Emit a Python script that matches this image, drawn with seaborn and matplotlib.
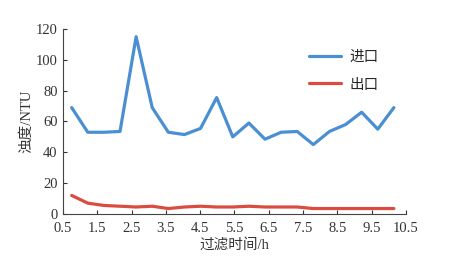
import pandas as pd
import numpy as np
import matplotlib.pyplot as plt
import seaborn as sns

hours = [0.75, 1.22, 1.69, 2.16, 2.63, 3.10, 3.57, 4.04, 4.51, 4.98, 5.45,
         5.92, 6.39, 6.86, 7.33, 7.80, 8.27, 8.74, 9.21, 9.68, 10.15]
inlet = [69, 53, 53, 53.5, 115, 69, 53, 51.5, 55.5, 75.5, 50,
         59, 48.5, 53, 53.5, 45, 53.5, 58, 66, 55, 69]
outlet = [12, 7, 5.5, 5, 4.5, 5, 3.5, 4.5, 5, 4.5, 4.5,
          5, 4.5, 4.5, 4.5, 3.5, 3.5, 3.5, 3.5, 3.5, 3.5]
series_names = ["进口", "出口"]
x_ticks = [0.5, 1.5, 2.5, 3.5, 4.5, 5.5, 6.5, 7.5, 8.5, 9.5, 10.5]
y_ticks = [0, 20, 40, 60, 80, 100, 120]

df = pd.DataFrame({
    "time": hours * 2,
    "value": inlet + outlet,
    "series": [series_names[0]] * len(hours) + [series_names[1]] * len(hours)
})

sns.set_style("ticks")
plt.rcParams["font.family"] = ["Liberation Serif", "Noto Sans CJK SC"]

fig = plt.figure(figsize=(4.54, 2.59), dpi=100)
ax = fig.add_axes([0.139, 0.174, 0.755, 0.714])
sns.lineplot(data=df, x="time", y="value", hue="series",
             palette=["#4a8fd2", "#dc4b40"], linewidth=2.3, ax=ax)

ax.set_xlim(0.5, 10.5)
ax.set_ylim(0, 120)
ax.set_xticks(x_ticks)
ax.set_xticklabels([str(t) for t in x_ticks])
ax.set_yticks(y_ticks)
ax.tick_params(direction="in", length=3, width=0.8, labelsize=10.5, colors="#333333")
ax.tick_params(axis="x", pad=6)
ax.tick_params(axis="y", pad=4)
ax.set_xlabel("过滤时间/h", fontsize=10.5, color="#333333", labelpad=2)
ax.set_ylabel("浊度/NTU", fontsize=10.5, color="#333333", labelpad=2)
for s in ["top", "right"]:
    ax.spines[s].set_visible(False)
for s in ["left", "bottom"]:
    ax.spines[s].set_color("#444444")
    ax.spines[s].set_linewidth(0.8)

leg = ax.legend(loc="upper right", bbox_to_anchor=(0.96, 0.955), frameon=False,
                fontsize=10.5, handlelength=2.2, handletextpad=0.6,
                labelspacing=1.0, title=None)

fig.savefig("out.png", dpi=100)
